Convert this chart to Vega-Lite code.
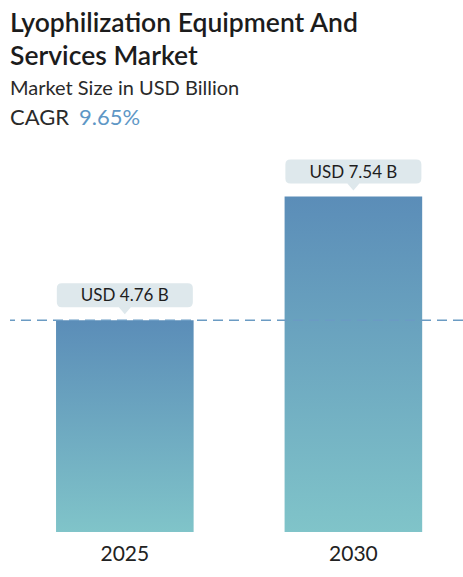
{
  "$schema": "https://vega.github.io/schema/vega-lite/v6.json",
  "width": 453,
  "height": 392,
  "autosize": {"type": "none"},
  "padding": {"left": 10, "top": 140, "right": 0, "bottom": 45},
  "background": "white",
  "config": {
    "view": {"stroke": null},
    "font": "Lato"
  },
  "title": {
    "text": ["Lyophilization Equipment And", "Services Market"],
    "subtitle": "Market Size in USD Billion",
    "anchor": "start",
    "frame": "group",
    "font": "Lato",
    "fontSize": 26.5,
    "fontWeight": 600,
    "lineHeight": 33,
    "color": "#1c1c1c",
    "subtitleFont": "Lato",
    "subtitleFontSize": 20,
    "subtitleColor": "#2a2a2a",
    "subtitlePadding": 9,
    "offset": 8
  },
  "data": {
    "values": [
      {"year": "2025", "value": 4.76, "label": "USD 4.76 B"},
      {"year": "2030", "value": 7.54, "label": "USD 7.54 B"}
    ]
  },
  "encoding": {
    "x": {
      "field": "year",
      "type": "nominal",
      "scale": {"paddingInner": 0.398, "paddingOuter": 0.19, "align": 0.53},
      "axis": {
        "title": null,
        "labelAngle": 0,
        "ticks": false,
        "domain": false,
        "labelFont": "Lato",
        "labelFontSize": 21,
        "labelColor": "#222222",
        "labelPadding": 11
      }
    },
    "y": {
      "field": "value",
      "type": "quantitative",
      "scale": {"domain": [0, 8.81], "nice": false},
      "axis": null
    }
  },
  "layer": [
    {
      "mark": {
        "type": "bar",
        "fill": {
          "gradient": "linear",
          "x1": 0, "y1": 0, "x2": 0, "y2": 1,
          "stops": [
            {"offset": 0, "color": "#5b8db8"},
            {"offset": 1, "color": "#80c4c9"}
          ]
        }
      }
    },
    {
      "transform": [{"filter": "datum.year == '2025'"}],
      "mark": {"type": "rule", "strokeDash": [10, 6], "strokeWidth": 1.5},
      "encoding": {
        "x": null,
        "color": {
          "datum": "9.65%",
          "scale": {"range": ["#6b9bc3"]},
          "legend": {
            "orient": "top",
            "title": "CAGR",
            "titleOrient": "left",
            "titleFont": "Lato",
            "titleFontSize": 22,
            "titleFontWeight": "normal",
            "titleColor": "#2a2a2a",
            "titlePadding": 6,
            "labelFont": "Lato",
            "labelFontSize": 22,
            "labelColor": "#5e97c6",
            "symbolSize": 0,
            "symbolOpacity": 0,
            "labelOffset": -19,
            "offset": 11
          }
        }
      }
    },
    {
      "mark": {
        "type": "point",
        "shape": "M-0.926,-0.1765L0.926,-0.1765Q1,-0.1765 1,-0.103L1,0.103Q1,0.1765 0.926,0.1765L0.088,0.1765L0,0.28L-0.088,0.1765L-0.926,0.1765Q-1,0.1765 -1,0.103L-1,-0.103Q-1,-0.1765 -0.926,-0.1765Z",
        "size": 18496,
        "filled": true,
        "fill": "#dee8ec",
        "opacity": 1,
        "strokeWidth": 0,
        "yOffset": -25
      }
    },
    {
      "mark": {
        "type": "text",
        "font": "Lato",
        "fontSize": 17,
        "color": "#1e1e1e",
        "baseline": "middle",
        "align": "center",
        "yOffset": -24
      },
      "encoding": {"text": {"field": "label"}}
    }
  ]
}
